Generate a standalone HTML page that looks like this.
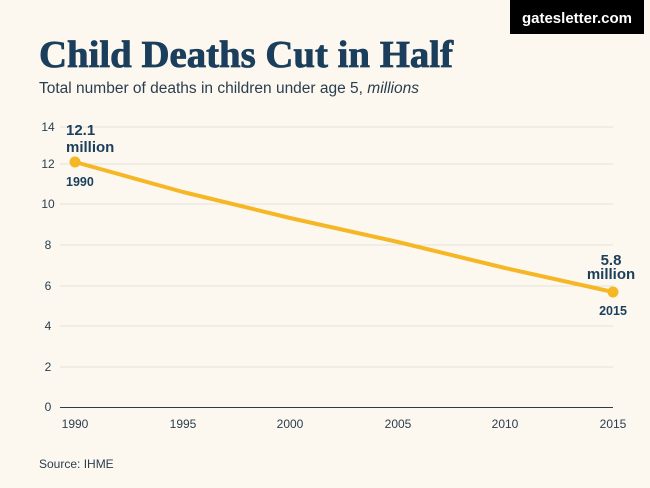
<!DOCTYPE html>
<html><head><style>
body{margin:0;background:#fcf8ef;}
svg{display:block;font-family:"Liberation Sans",sans-serif;}
</style></head><body>
<svg width="650" height="488" viewBox="0 0 650 488">
<rect width="650" height="488" fill="#fcf8ef"/>
<rect x="510" y="0" width="134" height="34" fill="#000"/>
<text x="577" y="23" text-anchor="middle" font-size="15" font-weight="bold" fill="#fff">gatesletter.com</text>
<text x="39" y="67" font-family="'Liberation Serif',serif" font-weight="bold" font-size="38" fill="#1b3e5c" textLength="414" lengthAdjust="spacingAndGlyphs" stroke="#1b3e5c" stroke-width="0.8">Child Deaths Cut in Half</text>
<text x="39" y="93" font-size="15.5" fill="#2a3e50">Total number of deaths in children under age 5, <tspan font-style="italic">millions</tspan></text>
<g stroke="#e4e2db" stroke-width="1">
<line x1="60" y1="127" x2="613" y2="127"/>
<line x1="60" y1="164" x2="613" y2="164"/>
<line x1="60" y1="204" x2="613" y2="204"/>
<line x1="60" y1="245" x2="613" y2="245"/>
<line x1="60" y1="286" x2="613" y2="286"/>
<line x1="60" y1="326" x2="613" y2="326"/>
<line x1="60" y1="367" x2="613" y2="367"/>
</g>
<line x1="60" y1="407.5" x2="613" y2="407.5" stroke="#2a3e50" stroke-width="1"/>
<g font-size="12" fill="#2a3e50" text-anchor="middle">
<text x="48" y="131">14</text><text x="48" y="168">12</text><text x="48" y="208">10</text>
<text x="48" y="249">8</text><text x="48" y="290">6</text><text x="48" y="330">4</text>
<text x="48" y="371">2</text><text x="48" y="411">0</text>
<text x="75" y="428">1990</text><text x="183" y="428">1995</text><text x="290" y="428">2000</text>
<text x="398" y="428">2005</text><text x="505" y="428">2010</text><text x="613" y="428">2015</text>
</g>
<polyline points="75,162 183,192 290,218 398,242 505,268 613,292" fill="none" stroke="#f5b726" stroke-width="4" stroke-linejoin="round"/>
<circle cx="75" cy="162" r="5.5" fill="#f5b726"/>
<circle cx="613" cy="292" r="5.5" fill="#f5b726"/>
<g fill="#1b3e5c" font-weight="bold">
<text x="66" y="135" font-size="15">12.1</text>
<text x="66" y="152" font-size="15">million</text>
<text x="66" y="186" font-size="12.5">1990</text>
<text x="611" y="265" font-size="15" text-anchor="middle">5.8</text>
<text x="611" y="279" font-size="15" text-anchor="middle">million</text>
<text x="613" y="315" font-size="12.5" text-anchor="middle">2015</text>
</g>
<text x="39" y="468" font-size="12" fill="#2a3e50">Source: IHME</text>
</svg>
</body></html>
